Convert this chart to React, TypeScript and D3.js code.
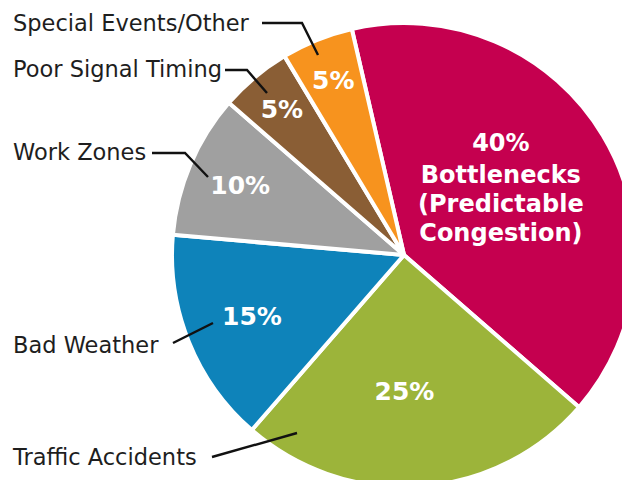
import React from "react";
import * as d3 from "d3";

const categories = [
  "Bottlenecks",
  "Traffic Accidents",
  "Bad Weather",
  "Work Zones",
  "Poor Signal Timing",
  "Special Events/Other",
];
const values = [40, 25, 15, 10, 5, 5];
const colors = ["#C5004F", "#9CB43A", "#0E83BA", "#A0A0A0", "#8A5E35", "#F7931E"];
const bottleneckLines = ["Bottlenecks", "(Predictable", "Congestion)"];

const W = 622;
const H = 480;
const cx = 404;
const cy = 255;
const R = 232;
const startDeg = -13;
const labelR = [113, 136, 164, 178, 190, 189];
const labelDx = [0, -9, 0, 0, 0, 0];

// outside label layout: text position and leader polyline
const outside: Record<string, { x: number; y: number; line: [number, number][] }> = {
  "Special Events/Other": { x: 13, y: 31, line: [[262, 23], [302, 23], [318, 55]] },
  "Poor Signal Timing": { x: 13, y: 77, line: [[225, 70], [247, 70], [267, 93]] },
  "Work Zones": { x: 13, y: 160, line: [[152, 153], [185, 153], [208, 177]] },
  "Bad Weather": { x: 13, y: 353, line: [[173, 343], [213, 323]] },
  "Traffic Accidents": { x: 13, y: 465, line: [[212, 457], [297, 433]] },
};

export default function App() {
  const pie = d3
    .pie<number>()
    .sort(null)
    .startAngle((startDeg * Math.PI) / 180)
    .endAngle(((startDeg + 360) * Math.PI) / 180);
  const arcs = pie(values);
  const arcGen = d3.arc<d3.PieArcDatum<number>>().innerRadius(0).outerRadius(R);
  const font = "'DejaVu Sans', sans-serif";

  return (
    <svg
      width={W}
      height={H}
      style={{ position: "absolute", left: 0, top: 0, background: "#fff" }}
    >
      <g transform={`translate(${cx},${cy})`}>
        {arcs.map((a, i) => (
          <path key={i} d={arcGen(a) || ""} fill={colors[i]} stroke="#fff" strokeWidth={4} strokeLinejoin="round" />
        ))}
        {arcs.map((a, i) => {
          const mid = (a.startAngle + a.endAngle) / 2;
          const x = Math.sin(mid) * labelR[i] + labelDx[i];
          const y = -Math.cos(mid) * labelR[i];
          if (i === 0) {
            return (
              <text key={i} x={x} y={y} fill="#fff" fontFamily={font} fontWeight={700} fontSize={24} textAnchor="middle">
                <tspan x={x} y={y - 46}>{`${values[i]}%`}</tspan>
                {bottleneckLines.map((t, j) => (
                  <tspan key={j} x={x} y={y - 14 + j * 29}>{t}</tspan>
                ))}
              </text>
            );
          }
          return (
            <text key={i} x={x} y={y + 9} fill="#fff" fontFamily={font} fontWeight={700} fontSize={25} textAnchor="middle">
              {`${values[i]}%`}
            </text>
          );
        })}
      </g>
      {categories.slice(1).map((c) => {
        const o = outside[c];
        return (
          <g key={c}>
            <text x={o.x} y={o.y} fontFamily={font} fontSize={22.5} fill="#1e1e1e" fontWeight={400}>
              {c}
            </text>
            <polyline
              points={o.line.map((p) => p.join(",")).join(" ")}
              fill="none"
              stroke="#111"
              strokeWidth={2.4}
            />
          </g>
        );
      })}
    </svg>
  );
}
